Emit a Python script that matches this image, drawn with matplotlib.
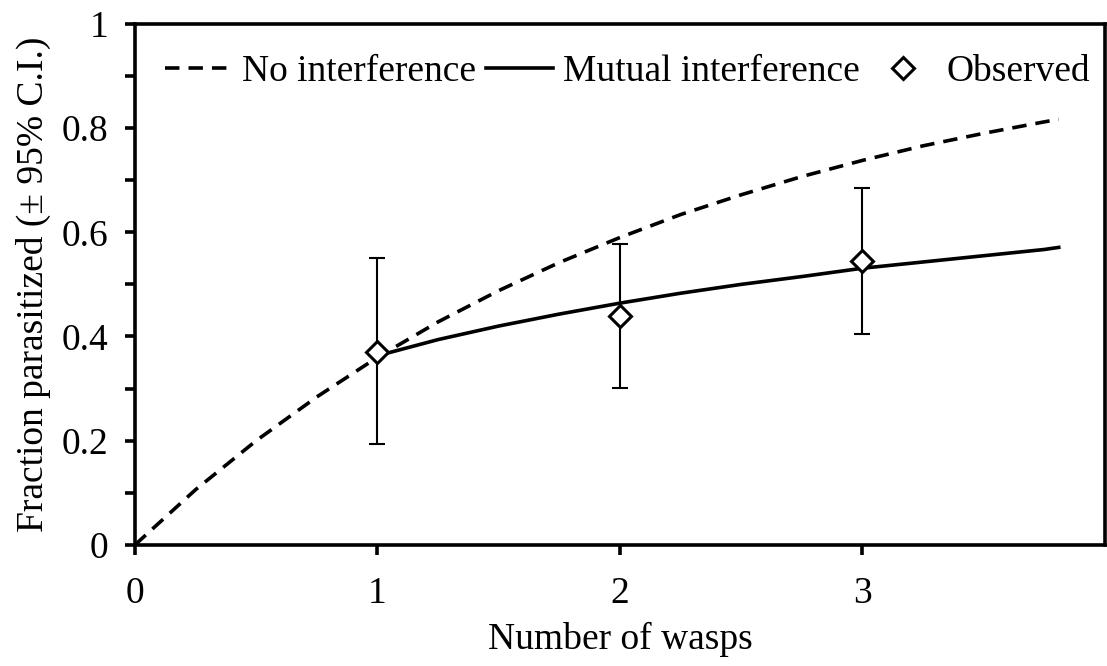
import matplotlib
matplotlib.use("Agg")
import matplotlib.pyplot as plt

plt.rcParams["font.family"] = ["Liberation Serif", "DejaVu Serif"]

# Model curves (fraction parasitized vs. number of wasps)
x_curve_none = [0, 0.25, 0.5, 0.75, 1.0, 1.25, 1.5, 1.75, 2.0, 2.25, 2.5,
                2.75, 3.0, 3.25, 3.5, 3.75, 3.81]
y_curve_none = [0.0, 0.106, 0.200, 0.284, 0.360, 0.428, 0.488, 0.542, 0.590,
                0.634, 0.672, 0.707, 0.738, 0.766, 0.790, 0.812, 0.817]

x_curve_mutual = [1.0, 1.25, 1.5, 1.75, 2.0, 2.25, 2.5, 2.75, 3.0, 3.25,
                  3.5, 3.75, 3.81]
y_curve_mutual = [0.363, 0.394, 0.420, 0.443, 0.464, 0.483, 0.500, 0.515,
                  0.531, 0.543, 0.555, 0.567, 0.571]

# Observed fractions with 95% confidence limits
wasps_obs = [1, 2, 3]
frac_obs = [0.371, 0.439, 0.544]
ci_low = [0.193, 0.301, 0.405]
ci_high = [0.551, 0.578, 0.685]

x_ticks = [0, 1, 2, 3]
y_ticks = [0, 0.2, 0.4, 0.6, 0.8, 1.0]
y_tick_labels = ["0", "0.2", "0.4", "0.6", "0.8", "1"]
y_minor = [0.1, 0.3, 0.5, 0.7, 0.9]

FS = 27

fig = plt.figure(figsize=(11.07, 6.66), dpi=100)
ax = fig.add_axes([0.122, 0.182, 0.876, 0.782])

ax.plot(x_curve_none, y_curve_none, color="black", lw=2.6,
        dashes=(4.0, 2.5), label="No interference", zorder=2)
ax.plot(x_curve_mutual, y_curve_mutual, color="black", lw=2.6,
        label="Mutual interference", zorder=2)

err_lo = [f - lo for f, lo in zip(frac_obs, ci_low)]
err_hi = [hi - f for f, hi in zip(frac_obs, ci_high)]
ax.errorbar(wasps_obs, frac_obs, yerr=[err_lo, err_hi], fmt="none",
            ecolor="black", elinewidth=1.5, capsize=6, capthick=1.5, zorder=3)
ax.plot(wasps_obs, frac_obs, linestyle="none", marker="D", markersize=11,
        markerfacecolor="white", markeredgecolor="black",
        markeredgewidth=2.2, label="Observed", zorder=4)

ax.set_xlim(0, 4)
ax.set_ylim(0, 1)
ax.set_xticks(x_ticks)
ax.set_xticklabels([str(t) for t in x_ticks])
ax.set_yticks(y_ticks)
ax.set_yticklabels(y_tick_labels)
ax.set_yticks(y_minor, minor=True)

for side in ["left", "right", "top", "bottom"]:
    ax.spines[side].set_linewidth(2.6)

ax.tick_params(axis="both", which="both", direction="out", length=7,
               width=2.6, labelsize=FS)
ax.tick_params(axis="x", pad=16)
ax.tick_params(axis="y", which="major", pad=12)
ax.tick_params(axis="y", which="minor", length=7, width=2.6)

ax.set_xlabel("Number of wasps", fontsize=FS, labelpad=8)
ax.set_ylabel("Fraction parasitized (\u00b1 95% C.I.)", fontsize=FS,
              labelpad=8)

leg = ax.legend(loc="upper left", bbox_to_anchor=(0.031, 0.9405), ncol=3,
                frameon=False, fontsize=FS, handlelength=1.8,
                handletextpad=0.26, columnspacing=0.25, borderaxespad=0.0,
                borderpad=0.0)

fig.savefig("out.png", dpi=100)
